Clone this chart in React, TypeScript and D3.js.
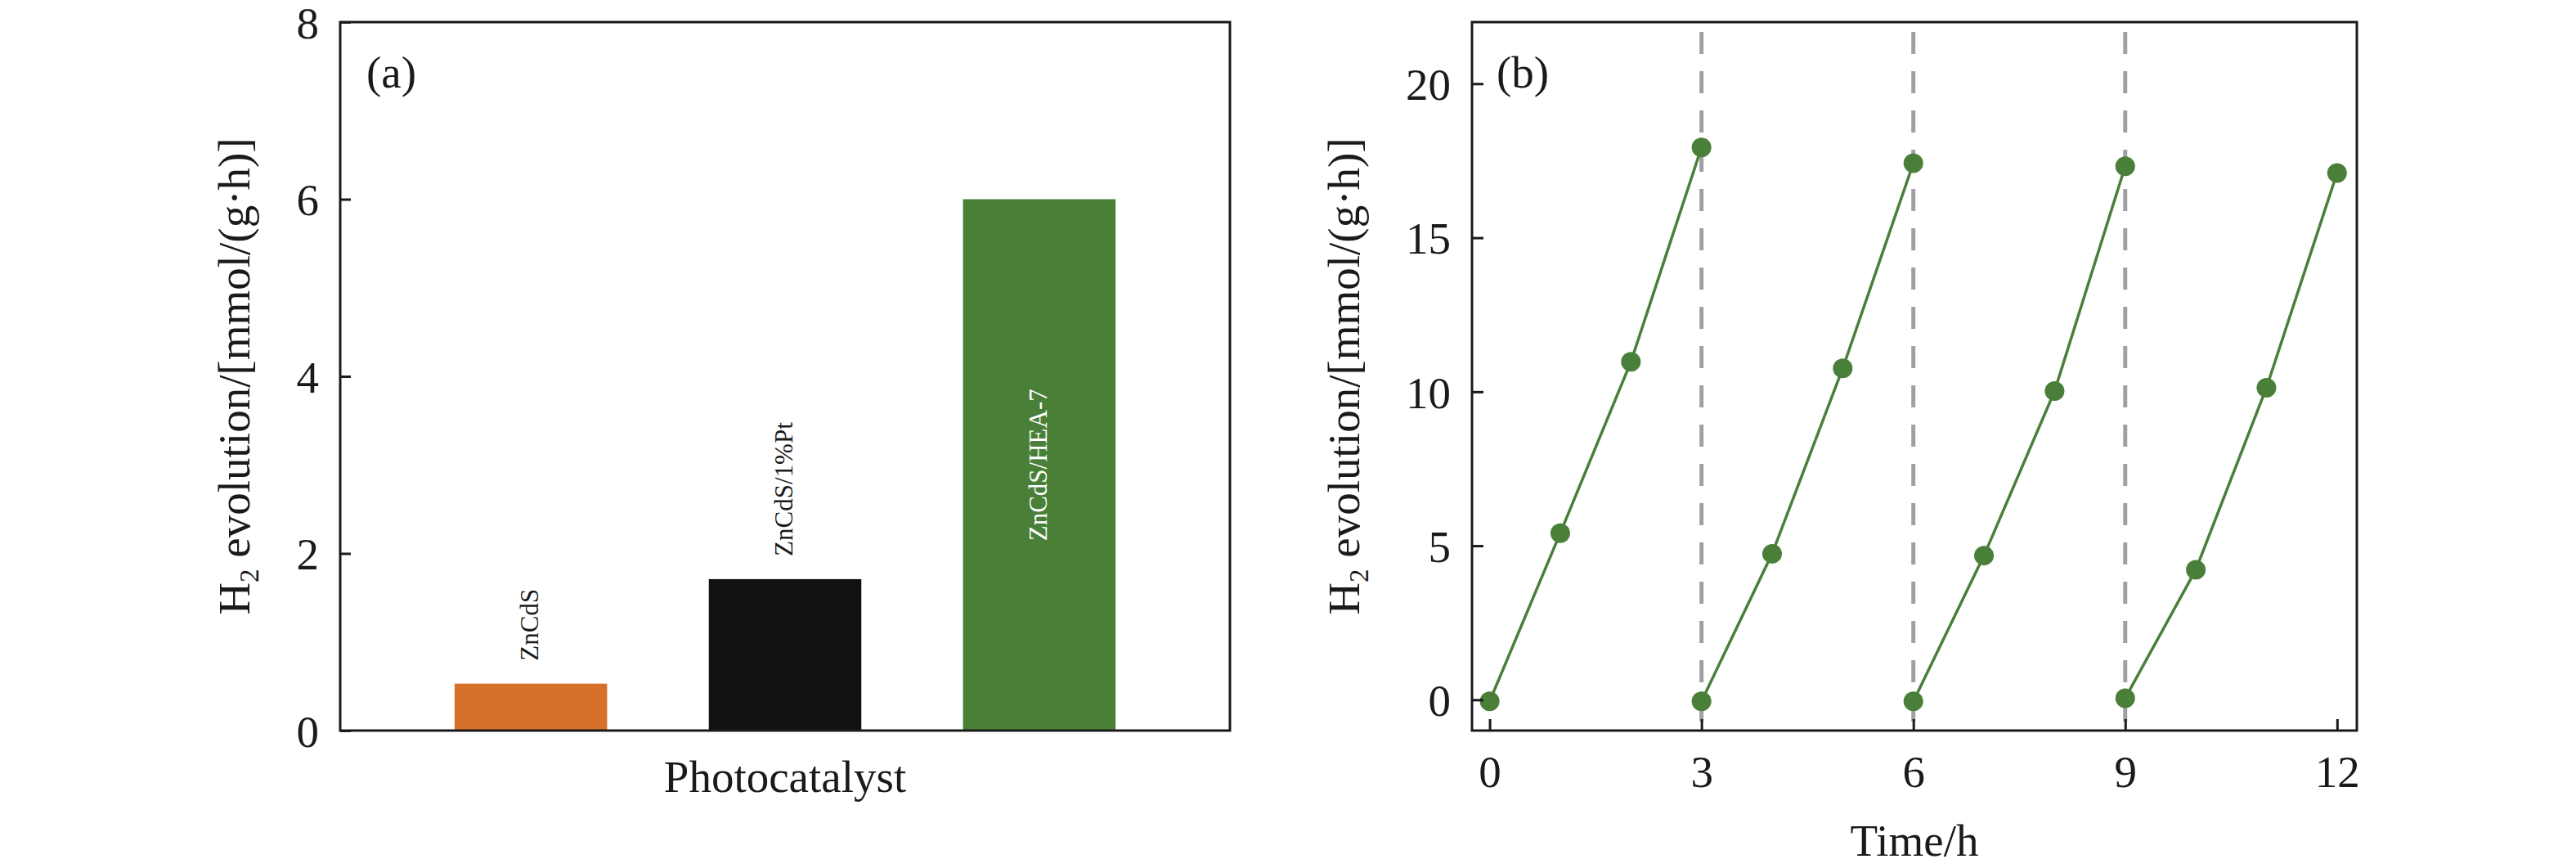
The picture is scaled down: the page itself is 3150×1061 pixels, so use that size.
import { useRef, useEffect } from 'react'
import * as d3 from 'd3'

const W = 3150
const H = 1061
const FONT = '"Liberation Serif", "Times New Roman", serif'
const INK = '#1a1a1a'

// panel (a): photocatalyst bars
const CATALYSTS = ['ZnCdS', 'ZnCdS/1%Pt', 'ZnCdS/HEA-7']
const RATES = [0.53, 1.71, 6.0]
const BAR_COLORS = ['#d5712b', '#111111', '#4a7f38']
const LABEL_INSIDE = [false, false, true]
const A_TICKS = [0, 2, 4, 6, 8]

// panel (b): cycling runs
const CYCLE_TIMES = [
  [0, 1, 2, 3],
  [3, 4, 5, 6],
  [6, 7, 8, 9],
  [9, 10, 11, 12],
]
const CYCLE_VALUES = [
  [-0.05, 5.41, 10.97, 17.93],
  [-0.05, 4.74, 10.76, 17.42],
  [-0.05, 4.68, 10.02, 17.32],
  [0.05, 4.22, 10.13, 17.1],
]
const CYCLE_BREAKS = [3, 6, 9]
const B_XTICKS = [0, 3, 6, 9, 12]
const B_YTICKS = [0, 5, 10, 15, 20]

const PA = { left: 416, right: 1504, top: 27, bottom: 893 }
const PB = { left: 1800, right: 2882, top: 27, bottom: 893 }
const GREEN = '#4a7f3a'

function yTitle(g: d3.Selection<SVGGElement, unknown, null, undefined>, x: number, y: number) {
  const t = g.append('text')
    .attr('transform', `translate(${x},${y}) rotate(-90)`)
    .attr('text-anchor', 'middle')
    .attr('font-size', 55)
    .attr('fill', INK)
  t.append('tspan').text('H')
  t.append('tspan').attr('font-size', 33).attr('dy', 11).text('2')
  t.append('tspan').attr('dy', -11).text(' evolution/[mmol/(g·h)]')
}

export default function App() {
  const svgRef = useRef<SVGSVGElement>(null)

  useEffect(() => {
    if (!svgRef.current) return
    const svg = d3.select(svgRef.current)
    svg.selectAll('*').remove()
    const root = svg.append('g').attr('font-family', FONT)

    // ---------- panel (a)
    const a = root.append('g')
    const xa = d3.scaleBand().domain(CATALYSTS).range([PA.left, PA.right]).paddingInner(0.4).paddingOuter(0.45)
    const ya = d3.scaleLinear().domain([0, 8]).range([PA.bottom, PA.top])

    a.selectAll('rect.bar')
      .data(CATALYSTS)
      .join('rect')
      .attr('class', 'bar')
      .attr('x', (d) => xa(d) ?? 0)
      .attr('width', xa.bandwidth())
      .attr('y', (_, i) => ya(RATES[i]))
      .attr('height', (_, i) => ya(0) - ya(RATES[i]))
      .attr('fill', (_, i) => BAR_COLORS[i])

    // rotated sample names, above the short bars, centred inside the tall one
    CATALYSTS.forEach((c, i) => {
      const cx = (xa(c) ?? 0) + xa.bandwidth() / 2
      const inside = LABEL_INSIDE[i]
      const ly = inside ? ya(RATES[i] / 2) : ya(RATES[i]) - 28
      a.append('text')
        .attr('transform', `translate(${cx + 9},${ly}) rotate(-90)`)
        .attr('text-anchor', inside ? 'middle' : 'start')
        .attr('font-size', 31)
        .attr('fill', inside ? '#ffffff' : INK)
        .text(c)
    })

    a.append('g')
      .attr('transform', `translate(${PA.left},0)`)
      .call(d3.axisLeft(ya).tickValues(A_TICKS).tickSize(-13).tickPadding(26).tickFormat(d3.format('d')))
      .call((g) => {
        g.select('.domain').remove()
        g.selectAll('.tick line').attr('stroke', INK).attr('stroke-width', 3)
        g.selectAll('text').attr('font-size', 55).attr('font-family', FONT).attr('fill', INK).attr('dy', '0.35em')
      })

    a.append('rect')
      .attr('x', PA.left).attr('y', PA.top)
      .attr('width', PA.right - PA.left).attr('height', PA.bottom - PA.top)
      .attr('fill', 'none').attr('stroke', INK).attr('stroke-width', 3)

    a.append('text').attr('x', PA.left + 32).attr('y', 107)
      .attr('font-size', 55).attr('fill', INK).text('(a)')
    a.append('text').attr('x', (PA.left + PA.right) / 2).attr('y', 968)
      .attr('text-anchor', 'middle').attr('font-size', 55).attr('fill', INK).text('Photocatalyst')
    yTitle(a, 305, (PA.top + PA.bottom) / 2)

    // ---------- panel (b)
    const b = root.append('g')
    const xb = d3.scaleLinear().domain([-0.25, 12.28]).range([PB.left, PB.right])
    const yb = d3.scaleLinear().domain([-1, 22]).range([PB.bottom, PB.top])

    // dashed separators between cycles
    b.selectAll('line.brk')
      .data(CYCLE_BREAKS)
      .join('line')
      .attr('class', 'brk')
      .attr('x1', (d) => xb(d)).attr('x2', (d) => xb(d))
      .attr('y1', PB.top + 12).attr('y2', PB.bottom)
      .attr('stroke', '#a0a0a4').attr('stroke-width', 5)
      .attr('stroke-dasharray', '27,21')

    const line = d3.line<[number, number]>().x((p) => xb(p[0])).y((p) => yb(p[1]))

    CYCLE_VALUES.forEach((vals, ci) => {
      const pts = vals.map((v, j) => [CYCLE_TIMES[ci][j], v] as [number, number])
      b.append('path')
        .attr('d', line(pts))
        .attr('fill', 'none').attr('stroke', GREEN).attr('stroke-width', 3.5)
      b.selectAll(`circle.c${ci}`)
        .data(pts)
        .join('circle')
        .attr('class', `c${ci}`)
        .attr('cx', (p) => xb(p[0])).attr('cy', (p) => yb(p[1]))
        .attr('r', 12).attr('fill', GREEN)
    })

    b.append('g')
      .attr('transform', `translate(${PB.left},0)`)
      .call(d3.axisLeft(yb).tickValues(B_YTICKS).tickSize(-14).tickPadding(26).tickFormat(d3.format('d')))
      .call((g) => {
        g.select('.domain').remove()
        g.selectAll('.tick line').attr('stroke', INK).attr('stroke-width', 3)
        g.selectAll('text').attr('font-size', 55).attr('font-family', FONT).attr('fill', INK).attr('dy', '0.35em')
      })
    b.append('g')
      .attr('transform', `translate(0,${PB.bottom})`)
      .call(d3.axisBottom(xb).tickValues(B_XTICKS).tickSize(-14).tickPadding(30).tickFormat(d3.format('d')))
      .call((g) => {
        g.select('.domain').remove()
        g.selectAll('.tick line').attr('stroke', INK).attr('stroke-width', 3)
        g.selectAll('text').attr('font-size', 55).attr('font-family', FONT).attr('fill', INK)
      })

    b.append('rect')
      .attr('x', PB.left).attr('y', PB.top)
      .attr('width', PB.right - PB.left).attr('height', PB.bottom - PB.top)
      .attr('fill', 'none').attr('stroke', INK).attr('stroke-width', 3)

    b.append('text').attr('x', PB.left + 30).attr('y', 107)
      .attr('font-size', 55).attr('fill', INK).text('(b)')
    b.append('text').attr('x', (PB.left + PB.right) / 2).attr('y', 1046)
      .attr('text-anchor', 'middle').attr('font-size', 55).attr('fill', INK).text('Time/h')
    yTitle(b, 1662, (PB.top + PB.bottom) / 2)
  }, [])

  return (
    <svg
      ref={svgRef}
      width={W}
      height={H}
      viewBox={`0 0 ${W} ${H}`}
      style={{ position: 'absolute', left: 0, top: 0, background: '#fff' }}
    />
  )
}
